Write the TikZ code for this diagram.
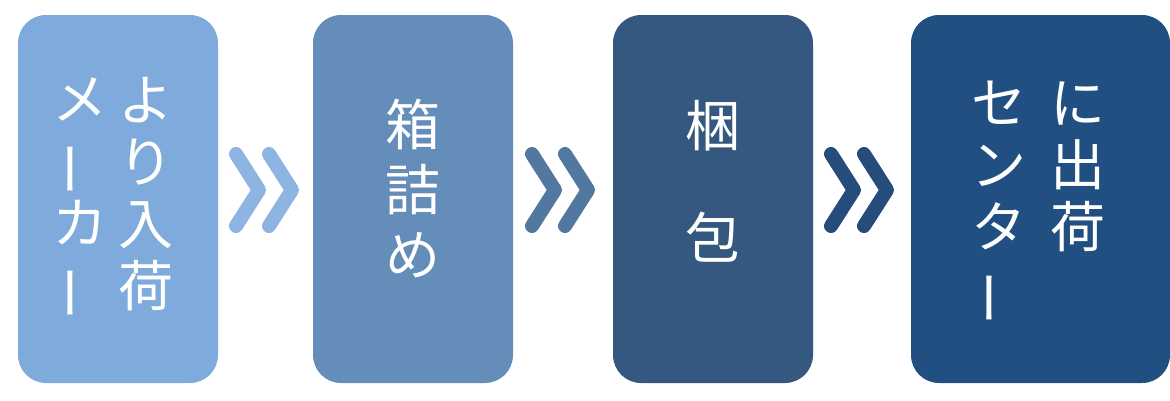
\documentclass[tikz,border=0pt]{standalone}
\usepackage{fontspec}
\setmainfont{Noto Sans CJK JP}
\usepackage{tikz}
\usetikzlibrary{positioning}

\definecolor{boxA}{HTML}{7FAADC}
\definecolor{boxB}{HTML}{648DBA}
\definecolor{boxC}{HTML}{34587F}
\definecolor{boxD}{HTML}{214F82}
\definecolor{chevA}{HTML}{8DB4E2}
\definecolor{chevB}{HTML}{5378A0}
\definecolor{chevC}{HTML}{254C7A}

% vertical long vowel mark
\newcommand{\tate}{\rotatebox[origin=c]{90}{ー}}

\begin{document}
\begin{tikzpicture}[x=1pt, y=-1pt,
			stepbox/.style = {shape=rectangle, draw=none,
				inner sep=0pt, outer sep=0pt,
				minimum width=200pt, minimum height=368pt,
				rounded corners=28pt},
			coltext/.style = {text=white, align=center,
				inner sep=0pt, anchor=north,
				font=\fontsize{55}{62}\selectfont},
			chev/.style = {line width=14pt, line cap=round, line join=round},
			chevpair/.pic = {
				\draw[chev, draw=#1] (-28.5,-36) -- (-5.5,0) -- (-28.5,36);
				\draw[chev, draw=#1] (4.5,-36) -- (27.5,0) -- (4.5,36);
			}]
			\useasboundingbox (0,0) rectangle (1170,400);
			% the four steps
			\node[stepbox, fill=boxA] (maker) at (118,199) {};
			\node[stepbox, fill=boxB, right=95pt of maker] (hako) {};
			\node[stepbox, fill=boxC, right=100pt of hako] (konpo) {};
			\node[stepbox, fill=boxD, minimum width=259pt, right=98pt of konpo] (center) {};
			% texts
			\node[coltext] (makerR) at ([xshift=28pt, yshift=-62pt]maker.north) {よ\\り\\入\\荷};
			\node[coltext] (makerL) at ([xshift=-38pt, yshift=-62pt]maker.north) {メ\\\tate\\カ\\\tate};
			\node[coltext, font=\fontsize{55}{65}\selectfont] (hakoT) at ([yshift=-84pt]hako.north) {箱\\詰\\め};
			\node[coltext] (konpoT) at ([yshift=-85pt]konpo.north) {梱\\[50pt]包};
			\node[coltext] (centerR) at ([xshift=37.5pt, yshift=-66pt]center.north) {に\\出\\荷};
			\node[coltext] (centerL) at ([xshift=-42pt, yshift=-66pt]center.north) {セ\\ン\\タ\\\tate};
			% chevrons
			\pic at ([xshift=46.5pt, yshift=9pt]maker.east) {chevpair=chevA};
			\pic at ([xshift=47.5pt, yshift=9pt]hako.east) {chevpair=chevB};
			\pic at ([xshift=46.5pt, yshift=9pt]konpo.east) {chevpair=chevC};
		\end{tikzpicture}
\end{document}
